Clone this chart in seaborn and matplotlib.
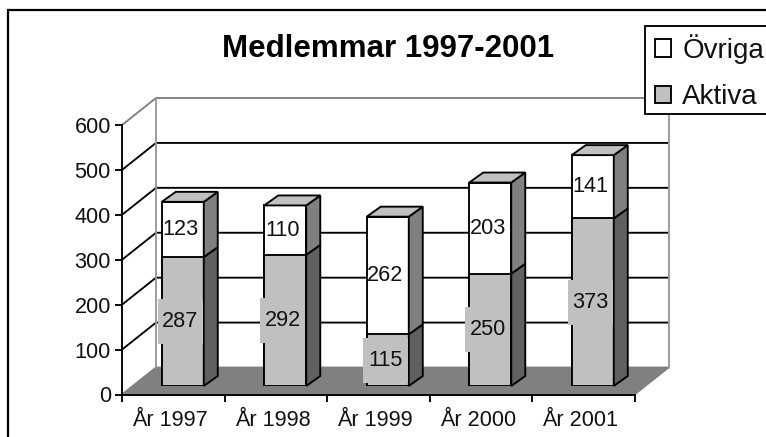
import numpy as np
import pandas as pd
import matplotlib
matplotlib.use("Agg")
import matplotlib.pyplot as plt
from matplotlib.patches import Polygon, Rectangle, Patch
import seaborn as sns

# ---- Data --------------------------------------------------------------------
years = ["År 1997", "År 1998", "År 1999", "År 2000", "År 2001"]
aktiva = [287, 292, 115, 250, 373]
ovriga = [123, 110, 262, 203, 141]
y_ticks = [0, 100, 200, 300, 400, 500, 600]

df = pd.DataFrame({"year": years, "aktiva": aktiva, "ovriga": ovriga})
df["total"] = df["aktiva"] + df["ovriga"]

# ---- Look --------------------------------------------------------------------
W, H = 766, 437
GRAY, SIDE_UP, SIDE_LOW, FLOOR = "#c0c0c0", "#808080", "#606060", "#808080"
LW = 1.35
FS = 15.6

sns.set_theme(style="white")
plt.rcParams["font.family"] = ["Liberation Sans", "DejaVu Sans"]
fig = plt.figure(figsize=(W / 100, H / 100), dpi=100)


def px_axes(left, top, right, bottom):
    # axes placed by image pixels (y counted from the top)
    return fig.add_axes([left / W, 1 - bottom / H, (right - left) / W, (bottom - top) / H])


# chart area frame, runs off the right and bottom edge like the original
fig.add_artist(Rectangle((8 / W, -0.2), 1.2, 1.2 - 10 / H, transform=fig.transFigure,
                         fill=False, ec="black", lw=1.6))

# front plane of the fake 3D box
L, R, TOP, BOT = 122, 634.5, 125, 394.5
ax = px_axes(L, TOP, R, BOT)
ax.set_xlim(-0.5, 4.5)
ax.set_ylim(0, 600)
ax.patch.set_visible(False)

unit_x = (R - L) / 5            # pixels per category
unit_y = (BOT - TOP) / 600      # pixels per member


def shift(dx, dy):
    return dx / unit_x, dy / unit_y


# floor and walls
wx, wy = shift(34, 27)
ax.add_patch(Polygon([(-0.5, 0), (4.5, 0), (4.5 + wx, wy), (-0.5 + wx, wy)], closed=True,
                     fc=FLOOR, ec=SIDE_UP, lw=LW, clip_on=False, zorder=1))
for v in y_ticks[1:]:
    c = SIDE_UP if v == 600 else "black"
    ax.plot([-0.5, -0.5 + wx, 4.5 + wx], [v, v + wy, v + wy], color=c, lw=LW,
            clip_on=False, zorder=1, solid_capstyle="butt")
ax.plot([-0.5 + wx] * 2, [wy, 600 + wy], color="#999999", lw=LW, clip_on=False, zorder=1.5)
ax.plot([4.5 + wx] * 2, [wy, 600 + wy], color="#999999", lw=LW, clip_on=False, zorder=1.5)

sns.despine(ax=ax, top=True, right=True)
for s in ["left", "bottom"]:
    ax.spines[s].set_linewidth(LW)
    ax.spines[s].set_color("black")
    ax.spines[s].set_zorder(2)
ax.set_yticks(y_ticks)
ax.set_xticks(np.arange(-0.5, 5, 1))
ax.set_xticklabels([])
ax.set_xticks(np.arange(5) - 0.03, labels=years, minor=True)
ax.tick_params(axis="y", which="major", left=True, length=5, width=LW, color="black",
               labelsize=FS, labelcolor="#111111", pad=3)
ax.tick_params(axis="x", which="major", bottom=True, length=5, width=LW, color="black")
ax.tick_params(axis="x", which="minor", bottom=False, length=0, labelsize=FS,
               labelcolor="#111111", pad=11)

# plane the bars stand on, set back from the front plane
bx, by = 9.5, 8.5
ax_bars = px_axes(L + bx, TOP - by, R + bx, BOT - by)
sns.barplot(data=df, x="year", y="total", color="white", saturation=1, width=0.41,
            edgecolor="black", linewidth=LW, ax=ax_bars)
sns.barplot(data=df, x="year", y="aktiva", color=GRAY, saturation=1, width=0.41,
            edgecolor="black", linewidth=LW, ax=ax_bars)
ax_bars.set_xlim(-0.5, 4.5)
ax_bars.set_ylim(0, 600)
ax_bars.set_axis_off()
ax_bars.patch.set_visible(False)

hw = 0.41 / 2
dx, dy = shift(14, 10)
for i, (a, t) in enumerate(zip(df["aktiva"], df["total"])):
    r = i + hw
    for b0, b1, col in [(0, a, SIDE_LOW), (a, t, SIDE_UP)]:
        ax_bars.add_patch(Polygon([(r, b0), (r + dx, b0 + dy), (r + dx, b1 + dy), (r, b1)], closed=True,
                                  fc=col, ec="black", lw=LW, clip_on=False, zorder=3))
    ax_bars.add_patch(Polygon([(i - hw, t), (i - hw + dx, t + dy), (r + dx, t + dy), (r, t)], closed=True,
                              fc=GRAY, ec="black", lw=LW, clip_on=False, zorder=3))

# value labels, the Aktiva ones sit on a square gray box
box_w, box_h = 45 / unit_x, 45 / unit_y
lab_dx = -2.5 / unit_x
for i, (a, o) in enumerate(zip(aktiva, ovriga)):
    ax_bars.add_patch(Rectangle((i + lab_dx - box_w / 2, a / 2 - box_h / 2), box_w, box_h,
                                fc=GRAY, ec="none", zorder=4, clip_on=False))
    ax_bars.text(i + lab_dx, a / 2, str(a), ha="center", va="center", fontsize=FS,
                 color="#111111", zorder=5)
    ax_bars.text(i + lab_dx, a + o / 2, str(o), ha="center", va="center", fontsize=FS,
                 color="#111111", zorder=5)

fig.text(388 / W, 1 - 49 / H, "Medlemmar 1997-2001", ha="center", va="center",
         fontsize=22.5, fontweight="bold", color="black")

# legend box runs off the right edge, so the frame is drawn on its own
fig.add_artist(Rectangle((645 / W, 1 - 114 / H), 0.3, 88 / H, transform=fig.transFigure,
                         fc="white", ec="black", lw=LW, zorder=5))
handles = [Patch(fc="white", ec="black", lw=LW, label="Övriga"),
           Patch(fc=GRAY, ec="black", lw=LW, label="Aktiva")]
leg = fig.legend(handles=handles, loc="upper left", bbox_to_anchor=(655 / W, 1 - 34 / H),
                 bbox_transform=fig.transFigure, fontsize=20, frameon=False,
                 handlelength=0.58, handleheight=0.58, handletextpad=0.4, labelspacing=0.74,
                 borderpad=0, borderaxespad=0, labelcolor="#111111")
leg.set_zorder(10)

fig.savefig("out.png", dpi=100)
